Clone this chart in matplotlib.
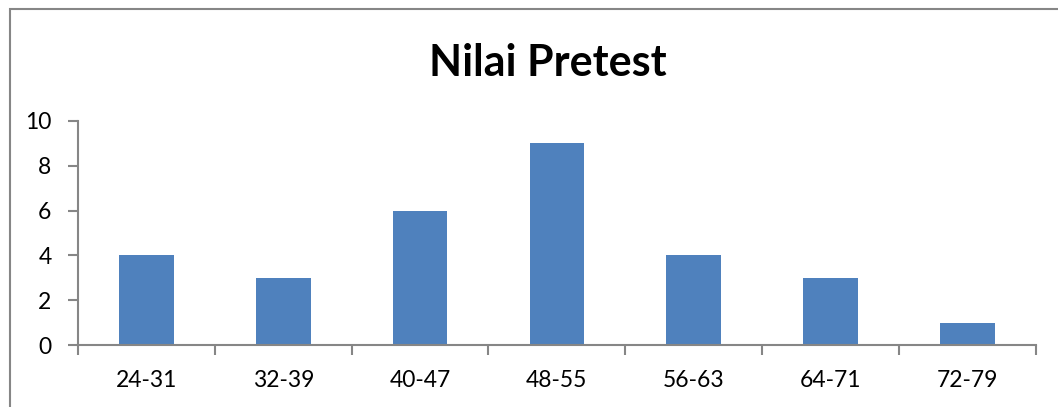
import matplotlib.pyplot as plt
from matplotlib.patches import Rectangle

categories = ["24-31", "32-39", "40-47", "48-55", "56-63", "64-71", "72-79"]
counts = [4, 3, 6, 9, 4, 3, 1]

plt.rcParams['font.family'] = ['Lato', 'DejaVu Sans']

fig = plt.figure(figsize=(10.58, 4.07), dpi=100)
ax = fig.add_axes([0.0737, 0.152, 0.9053, 0.551])

x = range(len(categories))
ax.bar(x, counts, width=0.4, color='#4F81BD')

ax.set_xlim(-0.5, len(categories) - 0.5)
ax.set_ylim(0, 10)
ax.set_yticks([0, 2, 4, 6, 8, 10])
ax.set_xticks([i - 0.5 for i in range(len(categories) + 1)], minor=False)
ax.set_xticklabels([])
ax.set_xticks(list(x), minor=True)
ax.set_xticklabels(categories, minor=True)
ax.tick_params(axis='x', which='minor', length=0, pad=18, labelsize=16.5)
ax.tick_params(axis='x', which='major', length=7, width=1.5, color='#868686', direction='out')
ax.tick_params(axis='y', length=7, width=1.5, color='#868686', labelsize=16.5, pad=12)

for side in ('top', 'right'):
    ax.spines[side].set_visible(False)
for side in ('left', 'bottom'):
    ax.spines[side].set_color('#868686')
    ax.spines[side].set_linewidth(1.5)

fig.text(0.518, 0.845, "Nilai Pretest", ha='center', va='center',
         fontsize=31, fontweight='bold')

# chart border, cut off at right and bottom
fig.patches.append(Rectangle((10 / 1058, -0.2), 1.2, 0.2 + 398 / 407,
                             transform=fig.transFigure, fill=False,
                             edgecolor='#868686', linewidth=1.5))

fig.savefig("out.png", dpi=100)
